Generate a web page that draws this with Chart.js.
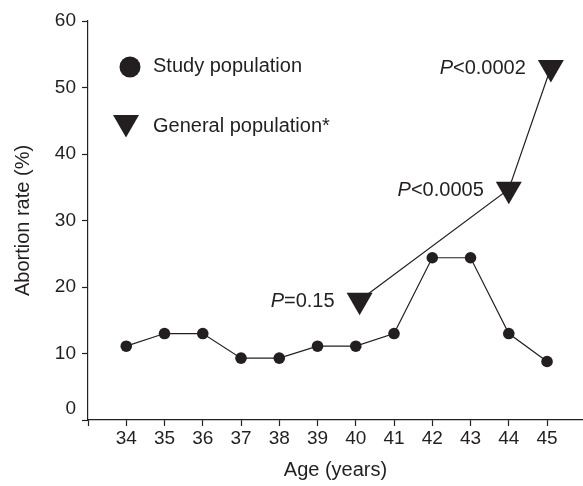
<!DOCTYPE html>
<html>
<head>
<meta charset="utf-8">
<script src="https://cdn.jsdelivr.net/npm/chart.js@4.4.1/dist/chart.umd.min.js"></script>
<style>
html, body { margin: 0; padding: 0; background: #fff; }
</style>
</head>
<body>
<canvas id="chart" width="583" height="486"></canvas>
<script>
// values
var ages = [34, 35, 36, 37, 38, 39, 40, 41, 42, 43, 44, 45];
var studyRates = [11.1, 13, 13, 9.3, 9.3, 11.1, 11.1, 13, 24.4, 24.4, 13, 8.8];
var generalAges = [40.1, 44, 45.1];
var generalRates = [18, 34.7, 53];
var pTexts = ['=0.15', '<0.0005', '<0.0002'];
var seriesNames = ['Study population', 'General population*'];
var xTitle = 'Age (years)';
var yTitle = 'Abortion rate (%)';

var INK = '#231f20';
var FONT = '"Liberation Sans", Arial, Helvetica, sans-serif';

function pairs(xs, ys) {
  var out = [];
  for (var i = 0; i < xs.length; i++) out.push({x: xs[i], y: ys[i]});
  return out;
}

// legend drawn inside the plot, top left
var insideLegend = {
  id: 'insideLegend',
  afterDraw: function(chart) {
    var ctx = chart.ctx, a = chart.chartArea;
    var markX = [a.left + 42, a.left + 38];
    var markY = [a.top + 46, a.top + 101.5];
    var textY = [a.top + 45, a.top + 105];
    ctx.save();
    ctx.fillStyle = INK;
    // circle
    ctx.beginPath();
    ctx.arc(markX[0], markY[0], 10.5, 0, Math.PI * 2);
    ctx.fill();
    // downward triangle
    var r = 15, s = r * Math.sin(Math.PI / 3);
    ctx.beginPath();
    ctx.moveTo(markX[1], markY[1] + r);
    ctx.lineTo(markX[1] - s, markY[1] - r / 2);
    ctx.lineTo(markX[1] + s, markY[1] - r / 2);
    ctx.closePath();
    ctx.fill();
    ctx.font = '20px ' + FONT;
    ctx.textBaseline = 'middle';
    ctx.textAlign = 'left';
    for (var i = 0; i < seriesNames.length; i++) {
      ctx.fillText(seriesNames[i], a.left + 65, textY[i]);
    }
    ctx.restore();
  }
};

// P value labels left of the triangles
var pLabels = {
  id: 'pLabels',
  afterDatasetsDraw: function(chart) {
    var ctx = chart.ctx;
    var meta = chart.getDatasetMeta(1);
    ctx.save();
    ctx.fillStyle = INK;
    ctx.textBaseline = 'middle';
    ctx.textAlign = 'left';
    meta.data.forEach(function(pt, i) {
      ctx.font = 'italic 20px ' + FONT;
      var wP = ctx.measureText('P').width;
      ctx.font = '20px ' + FONT;
      var wR = ctx.measureText(pTexts[i]).width;
      var x0 = pt.x - 25 - wP - wR;
      ctx.font = 'italic 20px ' + FONT;
      ctx.fillText('P', x0, pt.y + 1);
      ctx.font = '20px ' + FONT;
      ctx.fillText(pTexts[i], x0 + wP, pt.y + 1);
    });
    ctx.restore();
  }
};

Chart.defaults.font.family = FONT;
Chart.defaults.color = INK;

new Chart(document.getElementById('chart'), {
  type: 'line',
  data: {
    datasets: [
      {
        label: seriesNames[0],
        data: pairs(ages, studyRates),
        borderColor: INK,
        backgroundColor: INK,
        borderWidth: 1.2,
        pointStyle: 'circle',
        pointRadius: 5.8,
        pointBorderWidth: 0,
        tension: 0
      },
      {
        label: seriesNames[1],
        data: pairs(generalAges, generalRates),
        borderColor: INK,
        backgroundColor: INK,
        borderWidth: 1.2,
        pointStyle: 'triangle',
        pointRotation: 180,
        pointRadius: 15,
        pointBorderWidth: 0,
        tension: 0
      }
    ]
  },
  options: {
    responsive: false,
    devicePixelRatio: 1,
    animation: false,
    events: [],
    layout: { autoPadding: false, padding: { left: 0, top: 21, right: 0, bottom: 0 } },
    plugins: {
      legend: { display: false },
      tooltip: { enabled: false }
    },
    scales: {
      x: {
        type: 'linear',
        min: 33,
        max: 45.94,
        afterFit: function(s) { s.height = 66; },
        border: { display: true, color: INK, width: 1.2 },
        grid: { drawOnChartArea: false, drawTicks: true, tickLength: 6, tickWidth: 1.2, color: INK },
        ticks: {
          stepSize: 1,
          includeBounds: false,
          autoSkip: false,
          maxRotation: 0,
          padding: 1,
          font: { size: 19 },
          color: INK,
          callback: function(v) { return (v < 34 || v > 45.5) ? '' : v; }
        },
        title: { display: true, text: xTitle, font: { size: 20 }, color: INK, padding: { top: 0, bottom: 4 } }
      },
      y: {
        min: 0,
        max: 60,
        afterFit: function(s) { s.width = 88; },
        border: { display: true, color: INK, width: 1.2 },
        grid: { drawOnChartArea: false, drawTicks: true, tickLength: 6, color: INK, tickWidth: 1.2 },
        ticks: {
          stepSize: 10, padding: 6, font: { size: 19 }, color: INK,
          // the 0 label sits a little above the axis in the original
          callback: function(v) { return v === 0 ? ['0', ''] : v; }
        },
        title: { display: true, text: yTitle, font: { size: 20 }, color: INK, padding: { top: 11, bottom: 0 } }
      }
    }
  },
  plugins: [insideLegend, pLabels]
});
</script>
</body>
</html>
